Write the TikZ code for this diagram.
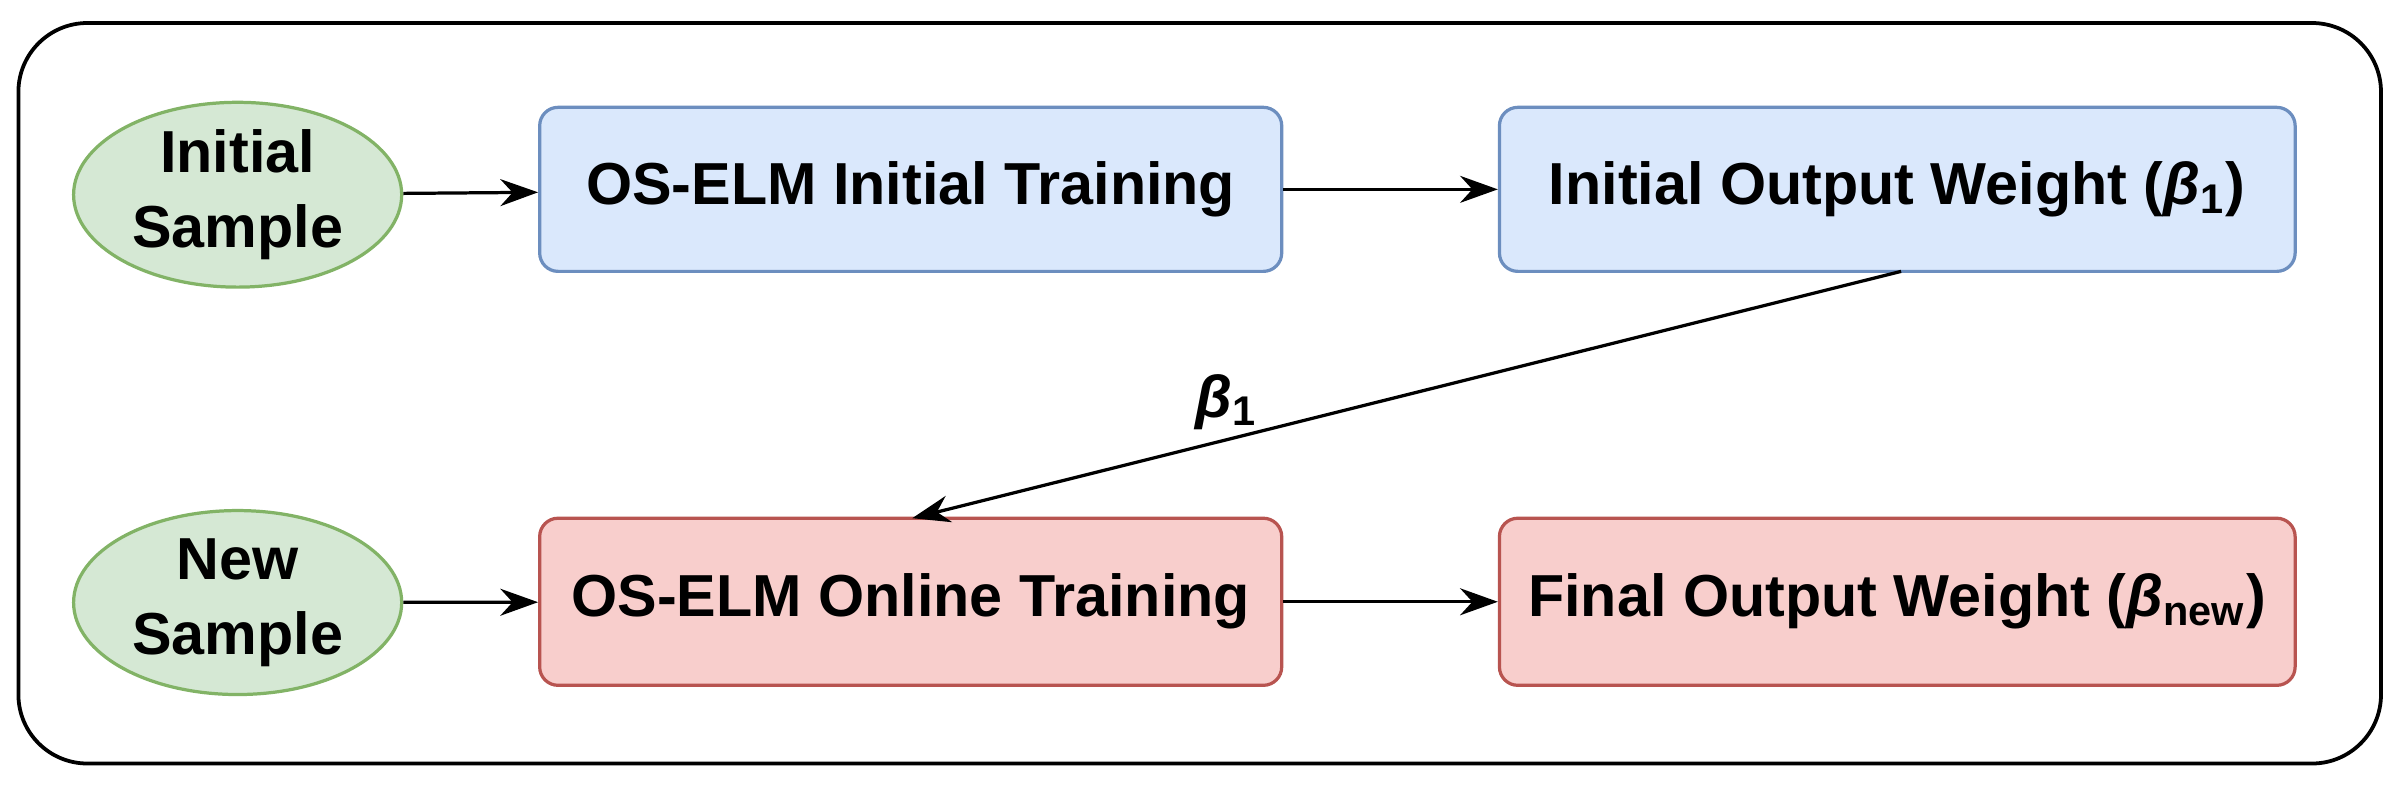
\documentclass[tikz,border=0pt]{standalone}
\usepackage{fontspec}
\setmainfont{Liberation Sans}
\usetikzlibrary{arrows.meta,shapes.geometric}
\definecolor{gf}{HTML}{D5E8D4}\definecolor{gd}{HTML}{82B366}
\definecolor{bf}{HTML}{DAE8FC}\definecolor{bd}{HTML}{6C8EBF}
\definecolor{rf}{HTML}{F8CECC}\definecolor{rd}{HTML}{B85450}
\begin{document}
\begin{tikzpicture}[x=0.1mm,y=-0.1mm,
 every node/.style={font=\fontsize{11}{14}\selectfont\bfseries},
 ell/.style={ellipse,draw=gd,fill=gf,line width=0.6pt,minimum width=21.4mm,minimum height=12mm,inner sep=0,align=center},
 blu/.style={rectangle,rounded corners=1.2mm,draw=bd,fill=bf,line width=0.6pt,minimum width=48.4mm,minimum height=10.7mm,inner sep=0},
 red/.style={rectangle,rounded corners=1.2mm,draw=rd,fill=rf,line width=0.6pt,minimum width=48.4mm,minimum height=10.9mm,inner sep=0},
 arr/.style={-{Stealth[length=7pt,width=5pt]},line width=0.6pt}]
\useasboundingbox (0,0) rectangle (1568,513);
\draw[line width=0.7pt,rounded corners=4.5mm] (12,15) rectangle (1553,498);
\node[ell] (is) at (155,127) {Initial\\Sample};
\node[blu] (b1) at (594,123.5) {OS-ELM Initial Training};
\node[blu,minimum width=51.9mm] (b2) at (1237.5,123.5) {Initial Output Weight ({\itshape β}\textsubscript{1})};
\node[ell] (ns) at (155,393) {New\\Sample};
\node[red] (b3) at (594,392.5) {OS-ELM Online Training};
\node[red,minimum width=51.9mm] (b4) at (1237.5,392.5) {Final Output Weight ({\itshape β}\textsubscript{new})};
\draw[arr] (is) -- (b1);
\draw[arr] (b1) -- (b2);
\draw[arr] (ns) -- (b3);
\draw[arr] (b3) -- (b4);
\coordinate (s) at (1240,177);
\coordinate (t) at (595,338);
\draw[arr] (s) -- (t);
\node at (800,262) {{\itshape β}\textsubscript{1}};
\end{tikzpicture}
\end{document}
